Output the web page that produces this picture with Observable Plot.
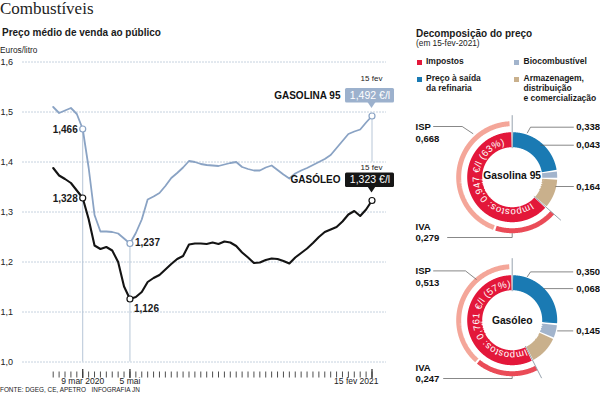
<!DOCTYPE html>
<html lang="pt"><head><meta charset="utf-8">
<script src="https://cdn.jsdelivr.net/npm/d3@7"></script>
<script src="https://cdn.jsdelivr.net/npm/@observablehq/plot@0.6"></script>
<style>
html,body{margin:0;padding:0;background:#fff;}
#wrap{position:relative;width:600px;height:395px;overflow:hidden;font-family:"Liberation Sans",Arial,sans-serif;color:#1a1a1a;}
#wrap > svg{position:absolute;}
.t{position:absolute;white-space:nowrap;line-height:1;}
.sq{position:absolute;width:5px;height:5px;}
</style></head><body><div id="wrap"></div>
<script>
// ===================== DATA =====================
// Weekly Mondays, 3 Feb 2020 -> 15 Feb 2021 (55 weeks)
const semanas = d3.utcMonday.range(new Date(Date.UTC(2020, 1, 3)), new Date(Date.UTC(2021, 1, 16)));
// Preço médio de venda ao público (€/l)
const gasolina95 = [1.510,1.498,1.503,1.508,1.496,1.466,1.389,1.294,1.261,1.261,
                    1.260,1.257,1.247,1.237,1.258,1.285,1.325,1.331,1.338,1.352,
                    1.368,1.378,1.389,1.402,1.400,1.396,1.394,1.393,1.392,1.395,
                    1.398,1.400,1.390,1.386,1.383,1.383,1.389,1.393,1.384,1.375,
                    1.367,1.377,1.383,1.388,1.394,1.400,1.406,1.414,1.428,1.442,
                    1.456,1.461,1.465,1.479,1.492];
const gasoleo    = [1.388,1.373,1.366,1.358,1.343,1.328,1.286,1.233,1.226,1.230,
                    1.223,1.200,1.151,1.126,1.130,1.140,1.160,1.168,1.174,1.185,
                    1.196,1.206,1.212,1.235,1.237,1.237,1.236,1.239,1.236,1.241,
                    1.239,1.232,1.219,1.209,1.198,1.199,1.204,1.207,1.206,1.202,
                    1.197,1.209,1.218,1.227,1.238,1.250,1.260,1.265,1.270,1.281,
                    1.295,1.302,1.292,1.305,1.323];
const datasDestaque = ["2020-03-09", "2020-05-04", "2021-02-15"];
const xTickLabels = ["9 mar 2020", "5 mai", "15 fev 2021"];
const yTicks = [1.0, 1.1, 1.2, 1.3, 1.4, 1.5, 1.6];
const meses = ["jan","fev","mar","abr","mai","jun","jul","ago","set","out","nov","dez"];

// Decomposição do preço (em 15-fev-2021), €/l
const componentes = ["Impostos", "Preço à saída da refinaria", "Biocombustível", "Armazenagem, distribuição e comercialização"];
const gasolinaDecomp = [0.947, 0.338, 0.043, 0.164];
const gasoleoDecomp  = [0.761, 0.350, 0.068, 0.145];
const impostoNomes = ["ISP", "IVA"];
const gasolinaImpostos = [0.668, 0.279];
const gasoleoImpostos  = [0.513, 0.247];

// ===================== STYLE =====================
const FONT = '"Liberation Sans", Arial, sans-serif';
const corGas = "#8aa3c4", corDie = "#141414";
const corComp = ["#e3173a", "#1a7ab3", "#a2b4cc", "#c9b08c"];
const corISP = "#f4a699", corIVA = "#ea4b57";
const fmt3 = v => v.toFixed(3).replace(".", ",");
const fmt1 = v => v.toFixed(1).replace(".", ",");
const wrap = document.getElementById("wrap");

function txt(s, x, base, size, o = {}) {
  const d = document.createElement("div");
  d.className = "t"; d.textContent = s;
  d.style.fontSize = size + "px";
  d.style.left = x + "px";
  d.style.top = (base - size * (o.serif ? 0.84 : 0.85)) + "px";
  if (o.bold) d.style.fontWeight = "bold";
  if (o.serif) d.style.fontFamily = '"Liberation Serif", serif';
  if (o.color) d.style.color = o.color;
  wrap.appendChild(d);
}
function sq(x, y, c) {
  const d = document.createElement("div");
  d.className = "sq"; d.style.left = x + "px"; d.style.top = y + "px"; d.style.background = c;
  wrap.appendChild(d);
}

// ===================== LINE CHART =====================
const rows = semanas.map((d, i) => ({date: d, gas: gasolina95[i], die: gasoleo[i]}));
const destaques = datasDestaque.map(s => new Date(s + "T00:00:00Z"));
const destRows = rows.filter(r => destaques.some(t => +t === +r.date));
const refs = destRows.map((r, i) => ({date: r.date, y1: r.gas, y2: i < 2 ? 1.0 : 1.4}));

const Lx = {x0: 52.7, x1: 371.5, left: 22, right: 386};
const t0 = semanas[0], t1 = semanas[semanas.length - 1];
const msPx = (t1 - t0) / (Lx.x1 - Lx.x0);
const xDom = [new Date(+t0 - (Lx.x0 - Lx.left) * msPx), new Date(+t1 + (Lx.right - Lx.x1) * msPx)];

const chart = Plot.plot({
  width: 395, height: 395,
  marginLeft: Lx.left, marginRight: 395 - Lx.right, marginTop: 61.5, marginBottom: 33.5,
  style: {background: "transparent", overflow: "visible", fontFamily: FONT},
  x: {type: "utc", domain: xDom, axis: null},
  y: {domain: [1.0, 1.6], axis: null},
  marks: [
    Plot.ruleY(yTicks, {stroke: "#c6d2df", strokeWidth: 1, strokeDasharray: "2,1"}),
    Plot.text(yTicks, {y: d => d, text: fmt1, frameAnchor: "left", dx: -22, textAnchor: "start", fontSize: 9, fill: "#222"}),
    Plot.ruleX(refs, {x: "date", y1: "y1", y2: "y2", stroke: "#b7c6d7", strokeWidth: 1}),
    Plot.ruleX(semanas, {x: d => d, y1: 0.980, y2: 0.968, stroke: "#3a3a3a", strokeWidth: 0.9}),
    Plot.ruleX(destaques, {x: d => d, y1: 0.985, y2: 0.967, stroke: "#3a3a3a", strokeWidth: 1.3}),
    Plot.text(destaques.slice(0, 2), {x: d => d, text: (d, i) => xTickLabels[i], frameAnchor: "bottom", dy: 22, fontSize: 8.5, fill: "#222"}),
    Plot.text(destaques.slice(2), {x: d => d, text: () => xTickLabels[2], frameAnchor: "bottom", dy: 22, dx: 6.5, textAnchor: "end", fontSize: 8.5, fill: "#222"}),
    Plot.line(rows, {x: "date", y: "gas", stroke: corGas, strokeWidth: 1.8}),
    Plot.line(rows, {x: "date", y: "die", stroke: corDie, strokeWidth: 2.1}),
    Plot.dot(destRows, {x: "date", y: "gas", r: 3, fill: "white", stroke: corGas, strokeWidth: 1.2}),
    Plot.dot(destRows, {x: "date", y: "die", r: 3, fill: "white", stroke: corDie, strokeWidth: 1.2}),
    Plot.text(destRows.slice(0, 1), {x: "date", y: "gas", text: d => fmt3(d.gas), textAnchor: "end", dx: -5, dy: 1, fontSize: 10, fontWeight: "bold"}),
    Plot.text(destRows.slice(0, 1), {x: "date", y: "die", text: d => fmt3(d.die), textAnchor: "end", dx: -5, dy: 1, fontSize: 10, fontWeight: "bold"}),
    Plot.text(destRows.slice(1, 2), {x: "date", y: "gas", text: d => fmt3(d.gas), textAnchor: "start", dx: 5, dy: -1, fontSize: 10, fontWeight: "bold"}),
    Plot.text(destRows.slice(1, 2), {x: "date", y: "die", text: d => fmt3(d.die), textAnchor: "start", dx: 4, dy: 10, fontSize: 10, fontWeight: "bold"})
  ]
});
chart.style.left = "0px"; chart.style.top = "0px";
wrap.appendChild(chart);

// callouts for the last value, placed through the plot's scales
const sx = chart.scale("x"), sy = chart.scale("y");
const X = sx.apply ? v => sx.apply(v) : d3.scaleUtc(sx.domain, sx.range);
const Y = sy.apply ? v => sy.apply(v) : d3.scaleLinear(sy.domain, sy.range);
const svgSel = d3.select(chart);
function callout(r, key, nome, fill, dateDy) {
  const px = X(r.date), py = Y(r[key]);
  const top = py - 27.5, bot = py - 13, tip = py - 7.5;
  const g = svgSel.append("g").attr("font-family", FONT);
  g.append("rect").attr("x", px - 26.5).attr("y", top).attr("width", 49).attr("height", bot - top).attr("rx", 1.5).attr("fill", fill);
  g.append("path").attr("d", `M${px - 4},${bot - 0.5}L${px + 4},${bot - 0.5}L${px},${tip}Z`).attr("fill", fill);
  g.append("text").attr("x", px - 1.5).attr("y", (top + bot) / 2).attr("dy", "0.35em").attr("text-anchor", "middle")
    .attr("fill", "#fff").attr("font-size", 10.5).text(fmt3(r[key]) + " €/l");
  g.append("text").attr("x", px - 31).attr("y", (top + bot) / 2).attr("dy", "0.35em").attr("text-anchor", "end")
    .attr("fill", "#111").attr("font-size", 10).attr("font-weight", "bold").text(nome);
  g.append("text").attr("x", px).attr("y", py + dateDy).attr("dy", "0.35em").attr("text-anchor", "middle")
    .attr("fill", "#222").attr("font-size", 8).text(`${r.date.getUTCDate()} ${meses[r.date.getUTCMonth()]}`);
}
const last = destRows[2];
callout(last, "gas", "GASOLINA 95", "#9cb1cd", -37);
callout(last, "die", "GASÓLEO", "#161616", -33);

// ===================== DONUTS =====================
function donut(dec, imp, nome, top, lay, id) {
  const W = 210, H = 146, cx = 121.7, cy = 71.7;
  const total = d3.sum(dec);
  const ang = d3.scaleLinear().domain([0, total]).range([0, 2 * Math.PI]);
  const ordem = [1, 2, 3, 0]; // clockwise from 12 o'clock
  let acc = 0;
  const segs = ordem.map(k => { const s = {k, a0: ang(acc), a1: ang(acc + dec[k]), color: corComp[k]}; acc += dec[k]; return s; });
  const taxStart = segs[3].a0;
  const ivaEnd = taxStart + ang(imp[1]);
  const outer = [
    {k: "IVA", a0: taxStart, a1: ivaEnd, color: corIVA, p0: 0.0, p1: 0.02},
    {k: "ISP", a0: ivaEnd, a1: ivaEnd + ang(imp[0]), color: corISP, p0: 0.02, p1: 0.05}
  ];
  const pt = (a, r) => [cx + r * Math.sin(a), cy - r * Math.cos(a)];
  function arcPts(list, r) {
    const out = [];
    list.forEach((s, j) => {
      const a0 = s.a0 + (s.p0 ?? 0.02), a1 = s.a1 - (s.p1 ?? 0.02);
      const n = Math.max(2, Math.ceil((a1 - a0) / 0.01));
      for (let i = 0; i <= n; i++) {
        const [x, y] = pt(a0 + (a1 - a0) * i / n, r);
        out.push({x, y, seg: j, color: s.color});
      }
    });
    return out;
  }
  const inner = arcPts(segs, 37.5);
  const outerPts = arcPts(outer, 53.5);
  const seps = [[0, 29, 62], [taxStart, 29, 65]].map(([a, r0, r1]) => {
    const [x1, y1] = pt(a, r0), [x2, y2] = pt(a, r1);
    return {x1, y1, x2, y2};
  });
  const leaders = [];
  lay.leaders.forEach((pts, j) => pts.forEach(([x, y]) => leaders.push({x, y, id: j})));
  const leftLabels = [
    {x: 25, y: lay.isp, t: impostoNomes[0]}, {x: 25, y: lay.isp + 12.2, t: fmt3(imp[0])},
    {x: 25, y: lay.iva, t: impostoNomes[1]}, {x: 25, y: lay.iva + 10.6, t: fmt3(imp[1])}
  ];
  const rightLabels = [1, 2, 3].map((k, j) => ({x: 209.5, y: lay.right[j], t: fmt3(dec[k])}));

  const p = Plot.plot({
    width: W, height: H, margin: 0,
    style: {background: "transparent", overflow: "visible", fontFamily: FONT},
    x: {domain: [0, W], range: [0, W], axis: null},
    y: {domain: [0, H], range: [0, H], axis: null},
    color: {type: "identity"},
    marks: [
      Plot.line(inner, {x: "x", y: "y", z: "seg", stroke: "color", strokeWidth: 15, strokeLinecap: "butt", strokeLinejoin: "miter"}),
      Plot.line(outerPts, {x: "x", y: "y", z: "seg", stroke: "color", strokeWidth: 5, strokeLinecap: "butt", strokeLinejoin: "miter"}),
      Plot.link(seps, {x1: "x1", y1: "y1", x2: "x2", y2: "y2", stroke: "#97a3ae", strokeWidth: 1}),
      Plot.line(leaders, {x: "x", y: "y", z: "id", stroke: "#555", strokeWidth: 0.7, strokeLinecap: "butt"}),
      Plot.text(leftLabels, {x: "x", y: "y", text: "t", textAnchor: "start", fontSize: 9.5, fontWeight: "bold", fill: "#111"}),
      Plot.text(rightLabels, {x: "x", y: "y", text: "t", textAnchor: "end", fontSize: 9.5, fontWeight: "bold", fill: "#111"}),
      Plot.text([nome], {x: () => cx, y: () => lay.nameY, text: d => d, fontSize: 10.3, fontWeight: "bold", fill: "#111"})
    ]
  });
  p.style.left = "390px"; p.style.top = top + "px";
  wrap.appendChild(p);

  // curved tax label along the red arc
  const r = 32.5;
  const path = d3.path();
  path.arc(cx, cy, r, taxStart - Math.PI / 2, 2 * Math.PI - Math.PI / 2, false);
  const s = d3.select(p);
  s.append("defs").append("path").attr("id", id).attr("d", path.toString());
  const pct = Math.round(dec[0] / total * 100);
  s.append("text").attr("font-family", FONT).attr("font-size", 9.6).attr("fill", "#fff").attr("letter-spacing", 0.25)
    .append("textPath").attr("href", "#" + id).attr("startOffset", "50%").attr("text-anchor", "middle")
    .text(`${componentes[0]}: ${fmt3(dec[0])} €/l (${pct}%)`);
}

donut(gasolinaDecomp, gasolinaImpostos, "Gasolina 95", 105, {
  isp: 21, iva: 121.5, right: [21.7, 39.7, 81], nameY: 70,
  leaders: [
    [[42.7, 21], [71.7, 21], [82.7, 28.3]],
    [[56.7, 132], [121.7, 132], [121.7, 127.7]],
    [[136.7, 27.7], [140, 21.7], [183.3, 21.7]],
    [[150, 39.7], [183.3, 39.7]],
    [[165, 81], [183.3, 81]]
  ]
}, "arcGas");

donut(gasoleoDecomp, gasoleoImpostos, "Gasóleo", 248.3, {
  isp: 22.4, iva: 119.4, right: [23.4, 40.1, 82.4], nameY: 72.4,
  leaders: [
    [[42.7, 22.4], [75, 22.4], [86, 31]],
    [[52.7, 130], [121.7, 130], [121.7, 127.7]],
    [[136.7, 28.4], [140, 23.4], [182.7, 23.4]],
    [[153.3, 40.1], [182.7, 40.1]],
    [[166.7, 82.4], [182.7, 82.4]]
  ]
}, "arcDie");

// ===================== TEXTS / LEGEND =====================
txt("Combustíveis", 0, 14.2, 17, {serif: true, color: "#222"});
txt("Preço médio de venda ao público", 2, 36.5, 10, {bold: true});
txt("Euros/litro", 0, 52.7, 8.3);
txt("FONTE: DGEG, CE, APETRO", 0, 392, 6.4);
txt("INFOGRAFIA JN", 91.5, 392, 6.4);

txt("Decomposição do preço", 416, 37.3, 10, {bold: true});
txt("(em 15-fev-2021)", 416, 45.8, 8.3);
sq(416.5, 59.8, corComp[0]); txt(componentes[0], 426, 64.6, 8.5, {bold: true});
sq(416.5, 76.6, corComp[1]); txt("Preço à saída", 426, 81.2, 8.5, {bold: true}); txt("da refinaria", 426, 91.4, 8.5, {bold: true});
sq(514, 59.8, corComp[2]); txt(componentes[2], 523.5, 64.6, 8.5, {bold: true});
sq(514, 76.6, corComp[3]); txt("Armazenagem,", 523.5, 81.2, 8.5, {bold: true});
txt("distribuição", 523.5, 91.4, 8.5, {bold: true}); txt("e comercialização", 523.5, 101.6, 8.5, {bold: true});
</script></body></html>
